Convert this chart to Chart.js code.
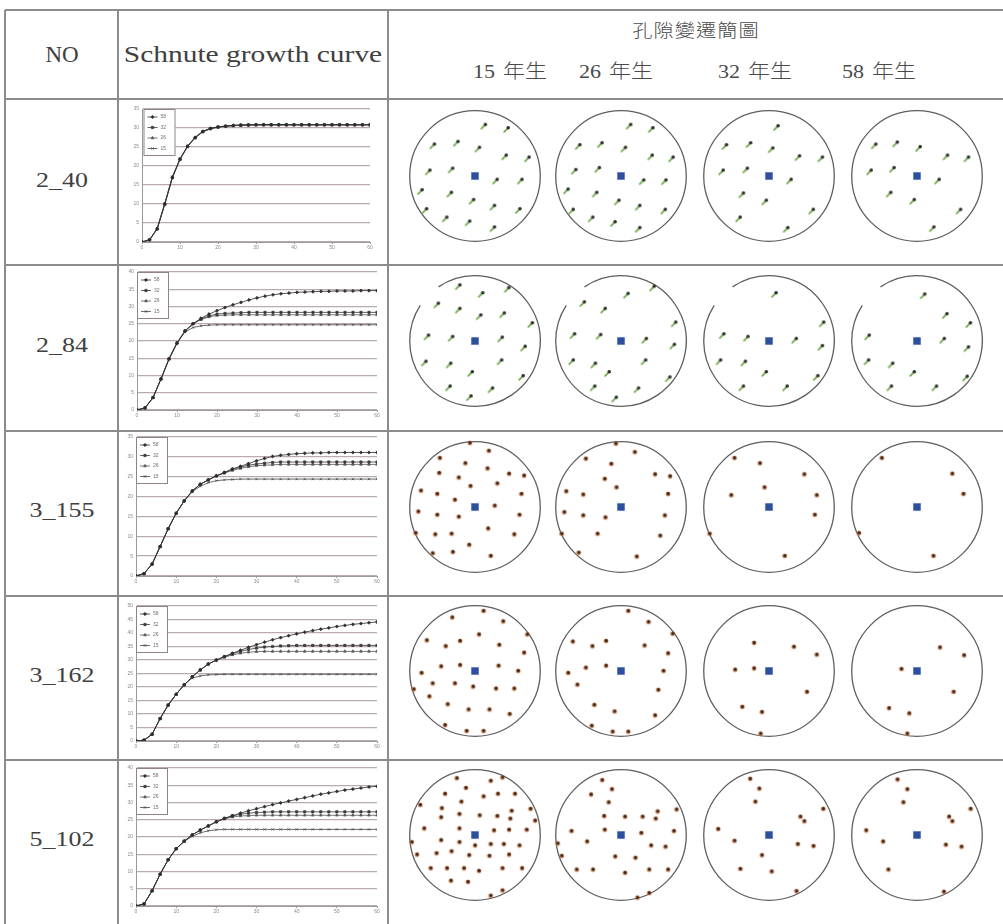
<!DOCTYPE html>
<html>
<head>
<meta charset="utf-8">
<script src="https://cdn.jsdelivr.net/npm/chart.js@4.4.0/dist/chart.umd.min.js"></script>
<style>
html, body { margin: 0; padding: 0; background: #fff; }
body { width: 1003px; height: 924px; position: relative; overflow: hidden; }
.rule { position: absolute; background: #8c8c8c; }
.txt { position: absolute; white-space: nowrap; color: #404040; line-height: 1;
       font-family: "Liberation Serif", "Noto Sans CJK TC", serif; }
.cjk { font-weight: 300; color: #4a4a4a; }
canvas { position: absolute; }
</style>
</head>
<body>
<script>
// ---- table text ----
const headerNo = 'NO';
const headerCurve = 'Schnute growth curve';
const headerPores = '孔隙變遷簡圖';
const ageLabels = ['15 年生', '26 年生', '32 年生', '58 年生'];
const sampleIds = ['2_40', '2_84', '3_155', '3_162', '5_102'];
const seriesNames = ['58', '32', '26', '15'];

// ---- growth curves (age in years, every 2 years) ----
const years = [0,2,4,6,8,10,12,14,16,18,20,22,24,26,28,30,32,34,36,38,40,42,44,46,48,50,52,54,56,58,60];
const growthMax = [35, 40, 35, 50, 40];
const growthStep = 5;
const ageStep = 10;

const g240_58 = [0,0.6,3.5,10.0,17.0,21.8,25.2,27.5,29.1,29.9,30.3,30.5,30.7,30.8,30.8,
  30.9,30.9,30.9,30.9,30.9,30.9,30.9,30.9,30.9,30.9,30.9,30.9,30.9,30.9,30.9,30.9];
const g240_32 = [0,0.6,3.4,9.9,16.9,21.7,25.1,27.4,29.0,29.8,30.2,30.5,30.6,30.7,30.8,
  30.8,30.8,30.8,30.8,30.8,30.8,30.8,30.8,30.8,30.8,30.8,30.8,30.8,30.8,30.8,30.8];
const g240_26 = [0,0.5,3.5,10.1,17.1,21.9,25.2,27.5,29.0,29.8,30.2,30.4,30.6,30.7,30.7,
  30.8,30.8,30.8,30.8,30.8,30.8,30.8,30.8,30.8,30.8,30.8,30.8,30.8,30.8,30.8,30.8];
const g240_15 = [0,0.6,3.6,10.2,17.2,21.9,25.3,27.6,29.1,29.9,30.3,30.5,30.7,30.8,30.9,
  30.9,30.9,30.9,30.9,30.9,30.9,30.9,30.9,30.9,30.9,30.9,30.9,30.9,30.9,30.9,30.9];

const g284_58 = [0,0.6,3.6,9.0,14.8,19.4,22.9,25.0,26.6,27.8,28.8,29.7,30.5,31.2,31.9,
  32.5,33.0,33.4,33.7,33.9,34.1,34.2,34.3,34.4,34.4,34.5,34.5,34.5,34.6,34.6,34.6];
const g284_32 = [0,0.6,3.6,9.0,14.8,19.4,22.9,25.0,26.4,27.3,27.8,28.0,28.1,28.2,28.3,
  28.3,28.3,28.3,28.3,28.3,28.3,28.3,28.3,28.3,28.3,28.3,28.3,28.3,28.3,28.3,28.3];
const g284_26 = [0,0.6,3.6,9.0,14.8,19.4,22.9,25.0,26.2,27.0,27.4,27.5,27.6,27.6,27.6,
  27.6,27.6,27.6,27.6,27.6,27.6,27.6,27.6,27.6,27.6,27.6,27.6,27.6,27.6,27.6,27.6];
const g284_15 = [0,0.6,3.6,9.0,14.8,19.4,22.6,23.9,24.4,24.6,24.7,24.7,24.7,24.7,24.7,
  24.7,24.7,24.7,24.7,24.7,24.7,24.7,24.7,24.7,24.7,24.7,24.7,24.7,24.7,24.7,24.7];

const g3155_58 = [0,0.6,3.0,7.4,11.9,15.8,18.9,21.4,23.1,24.2,25.2,26.1,27.0,27.6,28.3,
  29.0,29.6,30.1,30.4,30.6,30.8,30.9,31.0,31.0,31.1,31.1,31.1,31.1,31.1,31.1,31.1];
const g3155_32 = [0,0.6,3.0,7.4,11.9,15.8,18.9,21.4,23.1,24.2,25.2,26.0,26.8,27.4,27.9,
  28.2,28.4,28.6,28.7,28.7,28.7,28.7,28.7,28.7,28.7,28.7,28.7,28.7,28.7,28.7,28.7];
const g3155_26 = [0,0.6,3.0,7.4,11.9,15.8,18.9,21.4,23.1,24.2,25.2,25.9,26.6,27.1,27.5,
  27.8,27.9,28.0,28.1,28.1,28.1,28.1,28.1,28.1,28.1,28.1,28.1,28.1,28.1,28.1,28.1];
const g3155_15 = [0,0.6,3.0,7.4,11.9,15.8,18.9,21.2,22.6,23.5,24.0,24.2,24.3,24.4,24.4,
  24.4,24.4,24.4,24.4,24.4,24.4,24.4,24.4,24.4,24.4,24.4,24.4,24.4,24.4,24.4,24.4];

const g3162_58 = [0,0.3,2.5,8.3,13.3,17.3,20.8,23.8,26.3,28.5,30.0,31.3,32.5,33.6,34.7,
  35.7,36.6,37.5,38.3,39.0,39.7,40.3,40.9,41.4,41.9,42.4,42.8,43.2,43.5,43.8,44.1];
const g3162_32 = [0,0.3,2.5,8.3,13.3,17.3,20.8,23.8,26.3,28.5,30.0,31.2,32.3,33.2,33.9,
  34.4,34.8,35.0,35.2,35.3,35.4,35.4,35.4,35.4,35.4,35.4,35.4,35.4,35.4,35.4,35.4];
const g3162_26 = [0,0.3,2.5,8.3,13.3,17.3,20.8,23.8,26.3,28.5,29.9,31.0,31.9,32.5,32.9,
  33.1,33.2,33.2,33.2,33.2,33.2,33.2,33.2,33.2,33.2,33.2,33.2,33.2,33.2,33.2,33.2];
const g3162_15 = [0,0.3,2.5,8.3,13.3,17.3,20.8,23.3,24.1,24.5,24.6,24.7,24.7,24.7,24.7,
  24.7,24.7,24.7,24.7,24.7,24.7,24.7,24.7,24.7,24.7,24.7,24.7,24.7,24.7,24.7,24.7];

const g5102_58 = [0,0.6,4.4,9.2,13.4,16.6,18.8,20.6,22.0,23.2,24.4,25.4,26.2,26.9,27.6,
  28.2,28.8,29.4,29.9,30.4,30.9,31.4,31.9,32.4,32.8,33.2,33.6,33.9,34.2,34.5,34.7];
const g5102_32 = [0,0.6,4.4,9.2,13.4,16.6,18.8,20.6,22.0,23.2,24.4,25.4,26.1,26.6,26.9,
  27.1,27.2,27.3,27.3,27.3,27.3,27.3,27.3,27.3,27.3,27.3,27.3,27.3,27.3,27.3,27.3];
const g5102_26 = [0,0.6,4.4,9.2,13.4,16.6,18.8,20.6,22.0,23.2,24.4,25.2,25.8,26.1,26.2,
  26.3,26.3,26.3,26.3,26.3,26.3,26.3,26.3,26.3,26.3,26.3,26.3,26.3,26.3,26.3,26.3];
const g5102_15 = [0,0.6,4.4,9.2,13.4,16.6,18.7,20.2,21.2,21.8,22.1,22.2,22.2,22.2,22.2,
  22.2,22.2,22.2,22.2,22.2,22.2,22.2,22.2,22.2,22.2,22.2,22.2,22.2,22.2,22.2,22.2];

// ---- pore positions in the stem section (unit radius, centre = pith) ----
const centerPoint = [[0, 0]];

const p240_15 = [[0.14,0.77],[0.49,0.72],[-0.64,0.47],[-0.28,0.51],[0.05,0.42],[0.46,0.30],[0.81,0.27],[-0.71,0.07],[-0.36,0.10],[0.32,-0.07],[0.70,-0.07],[-0.83,-0.23],[-0.38,-0.27],[-0.04,-0.38],[0.28,-0.47],[-0.76,-0.52],[0.67,-0.52],[-0.45,-0.65],[-0.10,-0.71],[0.28,-0.80]];
const p240_26 = [[0.13,0.77],[0.47,0.72],[-0.65,0.46],[-0.31,0.49],[0.05,0.42],[0.46,0.30],[0.78,0.27],[-0.71,0.08],[-0.35,0.11],[0.33,-0.08],[0.67,-0.08],[-0.83,-0.22],[-0.39,-0.27],[-0.05,-0.39],[0.27,-0.47],[-0.75,-0.53],[0.66,-0.53],[-0.45,-0.65],[-0.11,-0.72],[0.27,-0.81]];
const p240_32 = [[0.12,0.75],[-0.67,0.46],[-0.30,0.49],[0.04,0.41],[0.45,0.29],[0.80,0.27],[-0.72,0.07],[-0.35,0.10],[0.32,-0.07],[-0.41,-0.28],[-0.06,-0.39],[0.66,-0.53],[-0.46,-0.65],[0.27,-0.81]];
const p240_58 = [[-0.65,0.47],[-0.32,0.50],[0.03,0.43],[0.45,0.30],[0.77,0.27],[-0.72,0.07],[-0.37,0.11],[0.32,-0.07],[-0.42,-0.27],[-0.06,-0.38],[0.65,-0.53],[0.24,-0.80]];

const p284_15 = [[-0.25,0.84],[0.10,0.72],[0.50,0.80],[-0.58,0.56],[-0.25,0.48],[0.07,0.38],[0.43,0.41],[0.86,0.26],[-0.73,0.07],[-0.36,0.05],[0.40,0.04],[0.75,-0.10],[-0.77,-0.33],[-0.39,-0.36],[0.39,-0.31],[-0.06,-0.49],[0.72,-0.55],[-0.40,-0.71],[0.25,-0.74],[-0.08,-0.86]];
const p284_26 = [[0.49,0.82],[0.09,0.71],[-0.58,0.58],[-0.26,0.48],[0.82,0.27],[-0.73,0.09],[-0.33,0.08],[0.37,0.02],[0.80,-0.07],[-0.75,-0.31],[-0.41,-0.36],[0.36,-0.31],[0.73,-0.57],[-0.20,-0.49],[-0.42,-0.71],[0.25,-0.74],[-0.09,-0.88]];
const p284_32 = [[0.09,0.72],[0.82,0.27],[-0.71,0.09],[-0.34,0.05],[0.40,0.02],[0.80,-0.09],[-0.76,-0.31],[-0.38,-0.33],[-0.06,-0.49],[0.73,-0.55],[-0.41,-0.71],[0.26,-0.71]];
const p284_58 = [[0.10,0.70],[0.44,0.40],[0.80,0.26],[-0.75,0.07],[0.40,0.02],[0.77,-0.11],[-0.76,-0.31],[-0.39,-0.36],[-0.06,-0.49],[0.75,-0.56],[-0.41,-0.71],[0.28,-0.71]];

const p3155_15 = [[-0.08,0.98],[0.21,0.86],[-0.54,0.75],[-0.15,0.67],[0.19,0.59],[-0.55,0.52],[-0.25,0.45],[0.52,0.51],[0.75,0.48],[-0.07,0.32],[0.34,0.36],[-0.83,0.25],[-0.58,0.20],[-0.31,0.11],[0.71,0.20],[-0.87,-0.07],[-0.58,-0.12],[-0.25,-0.15],[0.30,0.02],[0.68,-0.12],[-0.91,-0.40],[-0.61,-0.42],[-0.36,-0.41],[0.20,-0.33],[0.60,-0.42],[-0.65,-0.71],[-0.34,-0.69],[-0.09,-0.58],[0.24,-0.75]];
const p3155_26 = [[-0.08,0.97],[0.21,0.84],[-0.54,0.74],[-0.15,0.66],[-0.25,0.43],[-0.07,0.30],[0.52,0.50],[0.75,0.47],[-0.84,0.24],[-0.58,0.19],[0.72,0.20],[-0.87,-0.08],[-0.58,-0.13],[-0.24,-0.16],[0.67,-0.13],[-0.91,-0.41],[-0.36,-0.41],[0.60,-0.44],[-0.65,-0.70],[0.24,-0.76]];
const p3155_32 = [[-0.53,0.75],[-0.14,0.67],[0.54,0.50],[-0.07,0.30],[-0.58,0.18],[0.73,0.18],[0.70,-0.12],[-0.91,-0.41],[0.24,-0.75]];
const p3155_58 = [[-0.54,0.75],[0.54,0.51],[0.71,0.20],[-0.89,-0.40],[0.25,-0.75]];

const p3162_15 = [[0.13,0.92],[-0.35,0.82],[0.43,0.76],[0.06,0.56],[-0.74,0.47],[-0.45,0.38],[-0.23,0.46],[0.37,0.40],[0.80,0.56],[0.75,0.28],[-0.82,-0.03],[-0.52,0.07],[-0.23,0.09],[0.36,0.08],[0.66,0.00],[-0.65,-0.19],[-0.31,-0.19],[-0.03,-0.24],[0.32,-0.27],[0.60,-0.27],[-0.94,-0.28],[-0.70,-0.39],[-0.42,-0.51],[-0.10,-0.59],[0.22,-0.59],[0.53,-0.66],[-0.46,-0.83],[-0.13,-0.92],[0.13,-0.92]];
const p3162_26 = [[0.11,0.92],[0.42,0.75],[0.79,0.57],[-0.74,0.45],[-0.44,0.38],[-0.23,0.46],[0.36,0.39],[0.72,0.27],[-0.81,-0.03],[-0.54,0.05],[-0.23,0.08],[0.65,0.00],[-0.67,-0.21],[0.57,-0.29],[-0.41,-0.52],[-0.10,-0.62],[0.52,-0.68],[-0.45,-0.84],[-0.13,-0.93],[0.11,-0.93]];
const p3162_32 = [[-0.23,0.43],[0.38,0.37],[0.73,0.25],[-0.52,0.02],[-0.23,0.04],[0.58,-0.32],[-0.41,-0.55],[-0.11,-0.63],[-0.13,-0.96]];
const p3162_58 = [[0.35,0.36],[0.72,0.24],[-0.24,0.03],[0.56,-0.32],[-0.43,-0.57],[-0.12,-0.65],[-0.15,-0.96]];

const p5102_15 = [[-0.28,0.87],[0.24,0.83],[0.42,0.88],[-0.46,0.63],[-0.14,0.72],[0.13,0.59],[0.35,0.63],[0.61,0.63],[-0.84,0.46],[-0.21,0.51],[-0.51,0.41],[0.85,0.40],[-0.52,0.27],[-0.24,0.32],[0.07,0.30],[0.34,0.29],[0.56,0.37],[0.54,0.25],[0.92,0.22],[-0.78,0.10],[-0.24,0.10],[0.29,0.07],[0.52,0.08],[0.79,0.08],[-0.97,-0.11],[-0.52,-0.08],[-0.24,-0.11],[0.00,-0.16],[0.24,-0.14],[0.44,-0.14],[0.68,-0.16],[-0.89,-0.30],[-0.59,-0.28],[-0.36,-0.25],[-0.09,-0.31],[0.22,-0.32],[0.52,-0.30],[-0.68,-0.51],[-0.43,-0.51],[-0.17,-0.51],[0.06,-0.55],[0.42,-0.51],[0.72,-0.51],[-0.37,-0.70],[-0.11,-0.72],[0.24,-0.93],[0.42,-0.85]];
const p5102_26 = [[-0.29,0.84],[-0.14,0.70],[-0.46,0.62],[-0.19,0.50],[-0.26,0.29],[0.06,0.28],[0.33,0.28],[0.56,0.36],[0.53,0.25],[0.85,0.39],[-0.76,0.06],[-0.25,0.08],[0.31,0.03],[0.81,0.06],[-0.97,-0.13],[-0.52,-0.10],[0.46,-0.16],[0.68,-0.18],[-0.91,-0.32],[-0.09,-0.33],[0.22,-0.35],[-0.68,-0.53],[-0.43,-0.53],[0.06,-0.58],[0.43,-0.53],[0.72,-0.53],[0.25,-0.96],[0.43,-0.89]];
const p5102_32 = [[-0.29,0.86],[-0.15,0.71],[-0.21,0.51],[0.83,0.40],[0.48,0.28],[0.54,0.21],[-0.78,0.09],[-0.53,-0.09],[0.44,-0.14],[0.68,-0.17],[-0.11,-0.31],[-0.44,-0.52],[0.04,-0.56],[0.42,-0.86]];
const p5102_58 = [[-0.30,0.85],[-0.15,0.70],[-0.21,0.50],[0.82,0.40],[0.49,0.28],[0.54,0.21],[-0.78,0.07],[-0.52,-0.10],[0.44,-0.15],[0.68,-0.18],[-0.44,-0.53],[0.41,-0.87]];

// ---- tables built from the arrays above ----
const growthSets = [
  [g240_58, g240_32, g240_26, g240_15],
  [g284_58, g284_32, g284_26, g284_15],
  [g3155_58, g3155_32, g3155_26, g3155_15],
  [g3162_58, g3162_32, g3162_26, g3162_15],
  [g5102_58, g5102_32, g5102_26, g5102_15]
];
const poreSets = [
  [p240_15, p240_26, p240_32, p240_58],
  [p284_15, p284_26, p284_32, p284_58],
  [p3155_15, p3155_26, p3155_32, p3155_58],
  [p3162_15, p3162_26, p3162_32, p3162_58],
  [p5102_15, p5102_26, p5102_32, p5102_58]
];

// ---- page layout ----
const topRule = 10;
const rowRules = [99, 265, 431, 596, 760];
const colRules = [5, 118, 388];
const rowLabelY = [180, 345, 510, 675, 839];
const plotBoxes = [
  { l: 142, t: 108, r: 370, b: 242, key: 1.5 },
  { l: 137, t: 271, r: 377, b: 410, key: 0 },
  { l: 136, t: 436, r: 377, b: 576, key: 0 },
  { l: 136, t: 605, r: 377, b: 741, key: 0 },
  { l: 136, t: 767, r: 377, b: 906, key: 0 }
];
const ringX = [475, 621, 769, 917];
const ringY = [176, 341, 507, 671, 835];
const ringGaps = [null, [124, 147], null, null, null];
const poreKind = ['green', 'green', 'brown', 'brown', 'brown'];

function addRule(left, top, width, height) {
  const d = document.createElement('div');
  d.className = 'rule';
  Object.assign(d.style, { left: left + 'px', top: top + 'px', width: width + 'px', height: height + 'px' });
  document.body.appendChild(d);
}
function addText(str, cx, cy, size, sx, cls, extra) {
  const d = document.createElement('div');
  d.className = 'txt' + (cls ? ' ' + cls : '');
  d.textContent = str;
  d.style.fontSize = size + 'px';
  d.style.left = cx + 'px';
  d.style.top = cy + 'px';
  d.style.transform = 'translate(-50%,-50%) scaleX(' + sx + ')';
  if (extra) Object.assign(d.style, extra);
  document.body.appendChild(d);
}

[topRule, ...rowRules].forEach(y => addRule(5, y - 1, 998, 2));
colRules.forEach(x => addRule(x - 1, topRule, 2, 924 - topRule));

addText(headerNo, 62, 54, 23, 1.0);
addText(headerCurve, 253, 54, 23, 1.28);
addText(headerPores, 696, 31, 18, 1.12, 'cjk', { letterSpacing: '1px' });
const ageX = [510, 616, 755, 879];
ageLabels.forEach((t, i) => addText(t, ageX[i], 71, 19, 1.16, 'cjk', { wordSpacing: '2px' }));
sampleIds.forEach((t, i) => addText(t, 62, rowLabelY[i], 22, 1.18));

// ---- legend box drawn inside each growth plot ----
const growthKey = {
  id: 'growthKey',
  afterDatasetsDraw(chart, args, opts) {
    const { ctx, chartArea } = chart;
    const x = chartArea.left + (opts.offset || 0), y = chartArea.top;
    const w = 32, h = 47;
    ctx.save();
    ctx.fillStyle = '#fff';
    ctx.fillRect(x, y, w, h);
    ctx.strokeStyle = '#8f8383';
    ctx.lineWidth = 1;
    ctx.strokeRect(x + 0.5, y + 0.5, w - 1, h - 1);
    chart.data.datasets.forEach((ds, i) => {
      const ly = y + 8 + i * 10.5;
      ctx.strokeStyle = ds.borderColor;
      ctx.lineWidth = 0.8;
      ctx.beginPath(); ctx.moveTo(x + 4, ly); ctx.lineTo(x + 14, ly); ctx.stroke();
      ctx.fillStyle = ds.pointBackgroundColor;
      ctx.strokeStyle = ds.pointBorderColor;
      Chart.helpers.drawPoint(ctx, { pointStyle: ds.pointStyle, radius: 1.6, borderWidth: 0.7, rotation: 0 }, x + 9, ly);
      ctx.fillStyle = '#707070';
      ctx.font = '5px "Liberation Sans"';
      ctx.textBaseline = 'middle';
      ctx.fillText(ds.label, x + 17, ly);
    });
    ctx.restore();
  }
};

const markerStyles = ['rectRot', 'rect', 'triangle', 'crossRot'];
const markerColors = ['#2e2e2e', '#3a3a3a', '#555555', '#444444'];

growthSets.forEach((set, r) => {
  const a = plotBoxes[r];
  const padL = 16, padT = 5, padR = 6, padB = 11;
  const cv = document.createElement('canvas');
  cv.width = a.r - a.l + padL + padR;
  cv.height = a.b - a.t + padT + padB;
  cv.style.left = (a.l - padL) + 'px';
  cv.style.top = (a.t - padT) + 'px';
  document.body.appendChild(cv);
  new Chart(cv, {
    type: 'line',
    data: {
      datasets: set.map((vals, i) => ({
        label: seriesNames[i],
        data: years.map((yr, k) => ({ x: yr, y: vals[k] })),
        borderColor: markerColors[i],
        borderWidth: 0.8,
        pointStyle: markerStyles[i],
        pointRadius: 1.6,
        pointBorderWidth: 0.7,
        pointBackgroundColor: markerColors[i],
        pointBorderColor: markerColors[i],
        tension: 0
      }))
    },
    options: {
      responsive: false,
      animation: false,
      events: [],
      layout: { padding: { left: 0, top: padT, right: padR, bottom: 0 } },
      plugins: { legend: { display: false }, tooltip: { enabled: false }, growthKey: { offset: a.key } },
      scales: {
        x: {
          type: 'linear', min: 0, max: 60,
          ticks: { stepSize: ageStep, font: { size: 5, family: 'Liberation Sans' }, color: '#8a8a8a', padding: 1, maxRotation: 0 },
          grid: { drawOnChartArea: false, drawTicks: true, tickLength: 2, color: '#9a9a9a' },
          border: { color: '#9a9a9a' },
          afterFit(s) { s.height = padB; }
        },
        y: {
          min: 0, max: growthMax[r],
          ticks: { stepSize: growthStep, font: { size: 5, family: 'Liberation Sans' }, color: '#8a8a8a', padding: 3 },
          grid: { color: '#b9abab', lineWidth: 1.3, drawTicks: false },
          border: { color: '#9a9a9a' },
          afterFit(s) { s.width = padL; }
        }
      }
    },
    plugins: [growthKey]
  });
});

// ---- pore diagrams ----
function makeMark(kind) {
  const c = document.createElement('canvas');
  const g = c.getContext('2d');
  if (kind === 'green') {
    c.width = 10; c.height = 10;
    g.strokeStyle = '#74ad4e'; g.lineWidth = 1.9; g.lineCap = 'round';
    g.beginPath(); g.moveTo(2.2, 7.8); g.lineTo(6.4, 3.6); g.stroke();
    g.fillStyle = '#2c3529';
    g.beginPath(); g.arc(6.2, 3.8, 1.8, 0, Math.PI * 2); g.fill();
  } else {
    c.width = 8; c.height = 8;
    g.fillStyle = 'rgba(206,128,78,0.75)';
    g.beginPath(); g.arc(4, 4, 2.5, 0, Math.PI * 2); g.fill();
    g.fillStyle = '#46271a';
    g.beginPath(); g.arc(4.2, 3.8, 1.7, 0, Math.PI * 2); g.fill();
  }
  return c;
}
const marks = { green: makeMark('green'), brown: makeMark('brown') };

const ringOutline = {
  id: 'ringOutline',
  beforeDatasetsDraw(chart, args, opts) {
    const { ctx, scales } = chart;
    const cx = scales.x.getPixelForValue(0), cy = scales.y.getPixelForValue(0);
    const rad = scales.x.getPixelForValue(1) - cx;
    ctx.save();
    ctx.strokeStyle = '#5e5e5e';
    ctx.lineWidth = 1.3;
    ctx.beginPath();
    if (opts.gap) {
      const a0 = -opts.gap[0] * Math.PI / 180;
      const a1 = (360 - opts.gap[1]) * Math.PI / 180;
      ctx.arc(cx, cy, rad, a0, a1, false);
    } else {
      ctx.arc(cx, cy, rad, 0, Math.PI * 2);
    }
    ctx.stroke();
    ctx.restore();
  }
};

const span = 1.08, box = 152;
poreSets.forEach((row, r) => {
  row.forEach((pts, c) => {
    const cv = document.createElement('canvas');
    cv.width = box; cv.height = box;
    cv.style.left = (ringX[c] - box / 2) + 'px';
    cv.style.top = (ringY[r] - box / 2) + 'px';
    document.body.appendChild(cv);
    new Chart(cv, {
      type: 'scatter',
      data: {
        datasets: [
          { data: pts.map(([u, v]) => ({ x: u, y: v })), pointStyle: marks[poreKind[r]], pointRadius: 4 },
          { data: centerPoint.map(([u, v]) => ({ x: u, y: v })), pointStyle: 'rect', pointRadius: 5,
            backgroundColor: '#2e4f9e', borderColor: '#3d5fae', borderWidth: 0.5 }
        ]
      },
      options: {
        responsive: false,
        animation: false,
        events: [],
        layout: { padding: 0 },
        plugins: { legend: { display: false }, tooltip: { enabled: false }, ringOutline: { gap: ringGaps[r] } },
        scales: {
          x: { type: 'linear', min: -span, max: span, display: false },
          y: { type: 'linear', min: -span, max: span, display: false }
        }
      },
      plugins: [ringOutline]
    });
  });
});
</script>
</body>
</html>
